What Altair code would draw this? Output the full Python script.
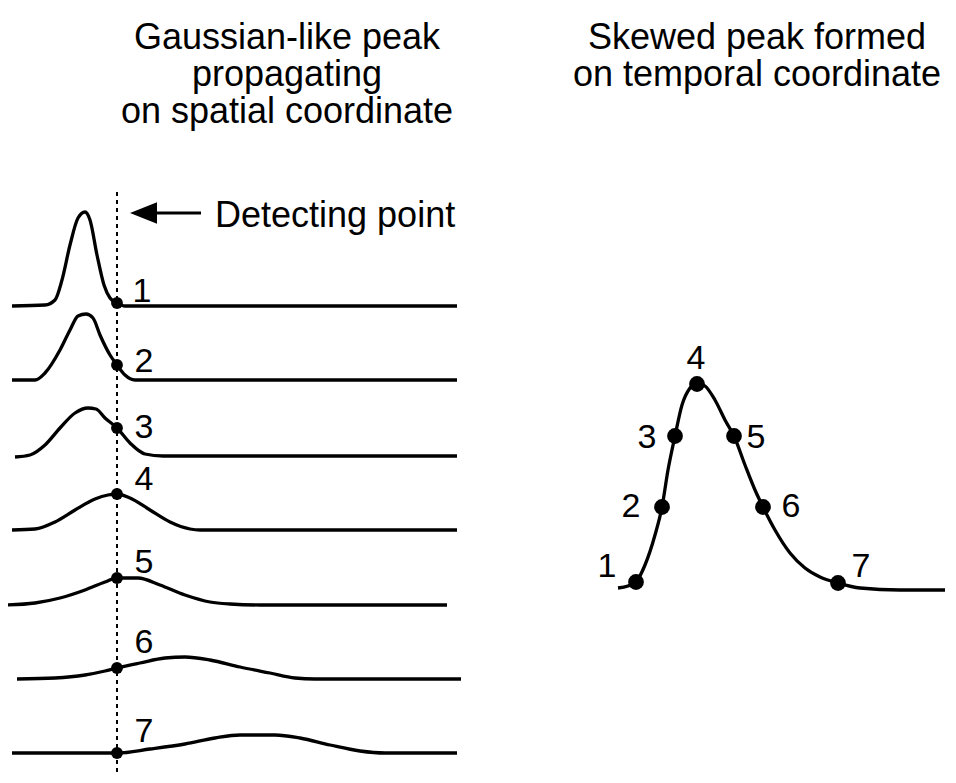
import altair as alt
import pandas as pd

# ---------------- data (in picture pixel units) ----------------
# Left panel: seven snapshots of a peak travelling along the spatial coordinate
c1_x = [12, 45, 55, 62, 70, 78, 85, 90, 97, 104, 110, 117, 125, 457]
c1_y = [306, 305, 300, 280, 245, 218, 212, 220, 255, 285, 298, 303, 306, 306]

c2_x = [12, 35, 45, 60, 70, 78, 86, 93, 100, 110, 117, 125, 135, 457]
c2_y = [380, 380, 373, 350, 330, 316, 314, 318, 335, 355, 365, 375, 380, 380]

c3_x = [15, 30, 45, 60, 75, 88, 96, 105, 117, 130, 145, 163, 457]
c3_y = [457, 455, 445, 428, 413, 408, 409, 418, 428, 443, 454, 456, 456]

c4_x = [12, 35, 55, 75, 95, 108, 117, 130, 150, 170, 190, 200, 457]
c4_y = [530, 529, 522, 510, 499, 495, 494, 498, 510, 522, 529, 530, 530]

c5_x = [7, 35, 60, 85, 105, 117, 138, 160, 185, 210, 230, 260, 447]
c5_y = [605, 603, 598, 590, 582, 578, 578, 585, 595, 602, 604, 605, 605]

c6_x = [17, 55, 85, 105, 117, 140, 165, 185, 210, 240, 270, 295, 315, 461]
c6_y = [679, 678, 675, 671, 668, 663, 658, 657, 660, 667, 673, 678, 679, 679]

c7_x = [12, 55, 117, 150, 185, 215, 240, 275, 300, 330, 360, 385, 457]
c7_y = [753, 753, 753, 749, 744, 738, 735, 735, 738, 745, 751, 753, 753]

left_curves_x = [c1_x, c2_x, c3_x, c4_x, c5_x, c6_x, c7_x]
left_curves_y = [c1_y, c2_y, c3_y, c4_y, c5_y, c6_y, c7_y]

# values recorded at the detecting point
detect_x = 117
left_dot_y = [303, 365, 428, 494, 578, 668, 753]
left_lab_x = [142, 144, 144, 144, 144, 144, 144]
left_lab_y = [302, 372, 438, 490, 573, 653, 742]
labels = ["1", "2", "3", "4", "5", "6", "7"]

# Right panel: skewed peak on the temporal coordinate
r_x = [618, 628, 636, 645, 655, 662, 668, 675, 682, 690, 697, 705, 715, 725, 734,
       745, 755, 763, 775, 790, 805, 820, 838, 860, 900, 945]
r_y = [588, 586, 582, 565, 535, 507, 470, 436, 405, 388, 383, 386, 400, 420, 436,
       465, 490, 507, 530, 553, 568, 577, 583, 588, 590, 590]

right_dot_x = [636, 662, 675, 697, 734, 763, 838]
right_dot_y = [582, 507, 436, 384, 436, 507, 583]
right_lab_x = [607, 631, 647, 696, 756, 791, 861]
right_lab_y = [577, 517, 448, 369, 448, 517, 577]

titles = ["Gaussian-like peak", "propagating", "on spatial coordinate",
          "Skewed peak formed", "on temporal coordinate"]
title_x = [287, 287, 287, 757, 757]
title_y = [49, 86, 123, 49, 86]

note_text = ["Detecting point"]
note_x = [215]
note_y = [227]

# ---------------- tables ----------------
rows = []
for i, (xs_, ys_) in enumerate(zip(left_curves_x, left_curves_y)):
    for xv, yv in zip(xs_, ys_):
        rows.append({"x": xv, "y": yv, "c": f"L{i+1}"})
for xv, yv in zip(r_x, r_y):
    rows.append({"x": xv, "y": yv, "c": "R"})
curves = pd.DataFrame(rows)

dots = pd.DataFrame({
    "x": [detect_x] * 7 + right_dot_x,
    "y": left_dot_y + right_dot_y,
    "s": ["L"] * 7 + ["R"] * 7,
})
nums = pd.DataFrame({
    "x": left_lab_x + right_lab_x,
    "y": left_lab_y + right_lab_y,
    "t": labels + labels,
})
ttl = pd.DataFrame({"x": title_x, "y": title_y, "t": titles})
note = pd.DataFrame({"x": note_x, "y": note_y, "t": note_text})
guide = pd.DataFrame({"x": [detect_x], "y": [192], "y2": [790]})
arrow_shaft = pd.DataFrame({"x": [150, 201], "y": [213, 213]})
arrow_head = pd.DataFrame({"x": [143.5], "y": [213]})

FONT = "Liberation Sans"
xs = alt.Scale(domain=[8, 948], nice=False, zero=False)
ys = alt.Scale(domain=[8, 773], reverse=True, nice=False, zero=False)
X = lambda f="x": alt.X(f"{f}:Q", scale=xs, axis=None)
Y = lambda f="y": alt.Y(f"{f}:Q", scale=ys, axis=None)

lines = alt.Chart(curves).mark_line(
    color="black", strokeWidth=3.3, interpolate="monotone", clip=False
).encode(x=X(), y=Y(), detail="c:N")

rule = alt.Chart(guide).mark_rule(
    color="black", strokeWidth=2, strokeDash=[4, 4]
).encode(x=X(), y=Y(), y2="y2:Q")

left_pts = alt.Chart(dots).transform_filter("datum.s == 'L'").mark_point(
    filled=True, color="black", opacity=1, size=140
).encode(x=X(), y=Y())
right_pts = alt.Chart(dots).transform_filter("datum.s == 'R'").mark_point(
    filled=True, color="black", opacity=1, size=250
).encode(x=X(), y=Y())

num_text = alt.Chart(nums).mark_text(
    font=FONT, fontSize=34, align="center", baseline="alphabetic", color="black"
).encode(x=X(), y=Y(), text="t:N")

title_text = alt.Chart(ttl).mark_text(
    font=FONT, fontSize=36, align="center", baseline="alphabetic", color="black"
).encode(x=X(), y=Y(), text="t:N")

note_txt = alt.Chart(note).mark_text(
    font=FONT, fontSize=36, align="left", baseline="alphabetic", color="black"
).encode(x=X(), y=Y(), text="t:N")

shaft = alt.Chart(arrow_shaft).mark_line(color="black", strokeWidth=3).encode(x=X(), y=Y())
head = alt.Chart(arrow_head).mark_point(
    shape="M -1 0 L 1 -0.8 L 1 0.8 Z", filled=True, color="black", opacity=1, size=729
).encode(x=X(), y=Y())

chart = alt.layer(
    rule, lines, left_pts, right_pts, num_text, title_text, note_txt, shaft, head
).properties(
    width=940, height=765, padding=0, autosize=alt.AutoSizeParams(type="none")
).configure_view(stroke=None)

chart.save("out.html", embed_options={"renderer": "svg", "actions": False})
